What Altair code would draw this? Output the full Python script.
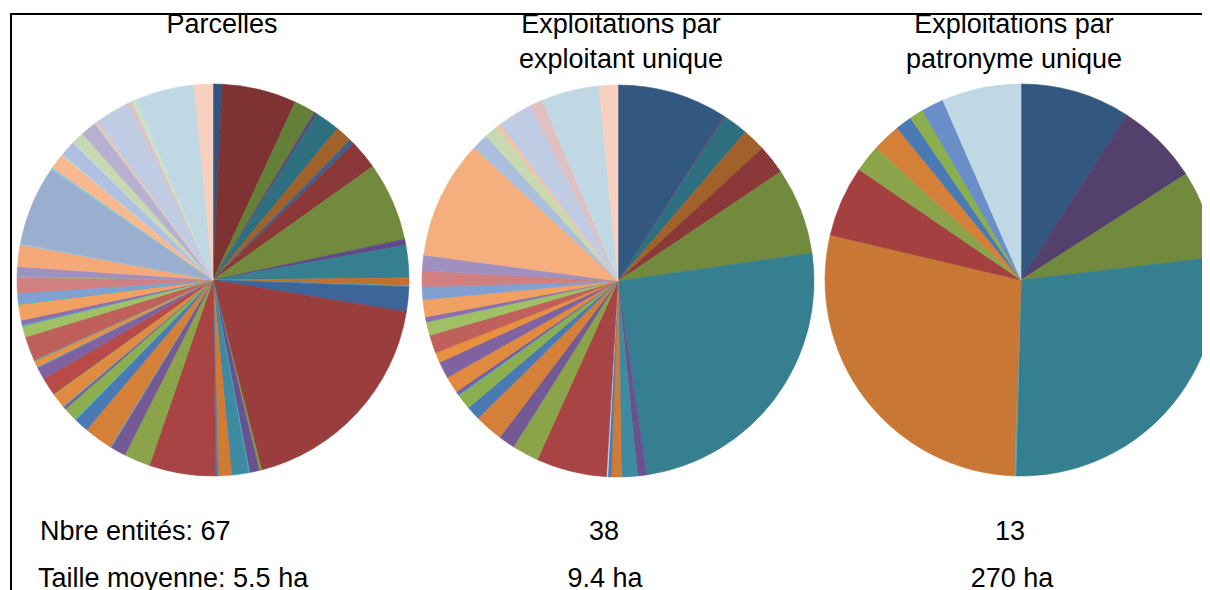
import altair as alt
import pandas as pd

# ---- data (slice sizes in degrees, clockwise from 12 o'clock)
parcelles_vals = [2.7, 22.1, 6.4, 1.0, 7.2, 5.0, 1.5, 8.7, 23.4, 1.8, 9.6, 2.3, 0.3, 7.4, 66.3,
                  0.7, 2.9, 0.3, 5.0, 3.9, 0.3, 0.4, 19.8, 7.8, 4.6, 0.3, 8.5, 4.3, 0.3, 4.1,
                  0.8, 0.3, 4.1, 0.3, 5.4, 3.7, 0.3, 1.8, 0.3, 7.3, 3.3, 0.3, 1.4, 4.7, 0.3,
                  3.0, 4.6, 0.3, 2.9, 6.5, 0.3, 23.6, 0.7, 4.6, 0.3, 4.5, 0.3, 3.5, 4.8, 0.3,
                  0.6, 10.3, 1.3, 0.3, 1.1, 17.6, 5.5]
parcelles_cols = ["#2F5580", "#7E3232", "#637F38", "#5B4A7C", "#2E7080", "#A0622A", "#3A6190",
                  "#8B3838", "#728A3E", "#5F4B8B", "#357F90", "#C07030", "#4BACC6", "#3E6598",
                  "#9A3D3D", "#7F9A48", "#6A5290", "#4BACC6", "#3C8BA0", "#D07A34", "#4F81BD",
                  "#4A7AB4", "#A84444", "#8BA44A", "#745A94", "#4BACC6", "#D58038", "#4A7AB4",
                  "#4BACC6", "#8BAE4E", "#7A5C9A", "#4BACC6", "#E08A40", "#9BBB59", "#B84A48",
                  "#7F62A0", "#4BACC6", "#E8903E", "#4BACC6", "#C0605A", "#A0C066", "#4BACC6",
                  "#8A70AE", "#F0A060", "#4BACC6", "#7FA0D0", "#D08080", "#9BBB59", "#A090C0",
                  "#F5A878", "#93CDDD", "#9AAFD0", "#8CC8D8", "#F8B890", "#B7DEE8", "#B0C0E0",
                  "#B7DEE8", "#C8D8B0", "#B8B0D0", "#B7DEE8", "#F8C0A0", "#C0CCE4", "#E0C0C0",
                  "#B7DEE8", "#D0E0C0", "#C0D8E4", "#F8D0C0"]

exploitant_vals = [32.7, 0.5, 7.3, 6.9, 8.7, 25.7, 89.8, 2.7, 4.7, 3.0, 1.0, 0.4, 20.9, 7.9,
                   4.9, 8.5, 4.1, 4.4, 0.4, 1.1, 4.9, 5.0, 3.0, 5.4, 4.0, 1.5, 5.1, 3.8, 4.7,
                   4.6, 35.2, 4.9, 4.2, 1.1, 10.4, 3.9, 17.1, 5.6]
exploitant_cols = ["#325880", "#5B4A7C", "#2E7080", "#A0622A", "#8B3838", "#728A3E", "#357F90",
                   "#6A5290", "#3C8BA0", "#D07A34", "#4A7AB4", "#C6D9F1", "#A84444", "#8BA44A",
                   "#745A94", "#D58038", "#4A7AB4", "#8BAE4E", "#4BACC6", "#7A5C9A", "#E08A40",
                   "#7F62A0", "#E8903E", "#C0605A", "#A0C066", "#8A70AE", "#F0A060", "#7FA0D0",
                   "#D08080", "#A090C0", "#F5AE7E", "#ABBEDC", "#C8D8B0", "#F8C0A0", "#C0CCE4",
                   "#DFC0C0", "#C0D8E4", "#F8D0C0"]

patronyme_vals = [32.6, 24.7, 26.0, 98.2, 0.4, 101.4, 21.0, 8.1, 8.4, 4.9, 4.1, 6.7, 23.5]
patronyme_cols = ["#325880", "#54406C", "#728A3E", "#357F90", "#4BACC6", "#C87834", "#A54040",
                  "#8BA44A", "#D58038", "#4A7AB4", "#8BAE4E", "#6A8EC8", "#C0D8E4"]

titles = ["Parcelles", "Exploitations par\nexploitant unique", "Exploitations par\npatronyme unique"]
counts = ["Nbre entités: 67", "38", "13"]
sizes = ["Taille moyenne: 5.5 ha", "9.4 ha", "270 ha"]

FONT = "Liberation Sans"
W, H = 1194, 590
R = 196
centers = [(205, 272), (610, 273), (1013, 272)]


def pie(name, vals, cols, cx, cy):
    keys = [f"{name}_{i:02d}" for i in range(len(vals))]
    df = pd.DataFrame({"key": keys, "value": vals, "idx": list(range(len(vals)))})
    return alt.Chart(df).mark_arc(radius=R, strokeWidth=0.6).encode(
        theta=alt.Theta("value:Q", stack=True),
        order=alt.Order("idx:Q", sort="ascending"),
        color=alt.Color("key:N", scale=alt.Scale(domain=keys, range=cols), legend=None),
        stroke=alt.Stroke("key:N", scale=alt.Scale(domain=keys, range=cols), legend=None),
        x=alt.value(cx),
        y=alt.value(cy),
    )


def label(txt, x, y, size, align="center", lb=False):
    df = pd.DataFrame({"t": [txt]})
    kw = dict(font=FONT, fontSize=size, color="#000000", align=align, baseline="alphabetic")
    if lb:
        kw.update(lineBreak="\n", lineHeight=35)
    return alt.Chart(df).mark_text(**kw).encode(text="t:N", x=alt.value(x), y=alt.value(y))


p1 = pie("p1", parcelles_vals, parcelles_cols, *centers[0])
p2 = pie("p2", exploitant_vals, exploitant_cols, *centers[1])
p3 = pie("p3", patronyme_vals, patronyme_cols, *centers[2])

texts = [
    label(titles[0], 214, 25, 27),
    label(titles[1], 613, 25, 27, lb=True),
    label(titles[2], 1006, 25, 27, lb=True),
    label(counts[0], 32, 532, 27, align="left"),
    label(counts[1], 596, 532, 27),
    label(counts[2], 1002, 532, 27),
    label(sizes[0], 30, 579, 27, align="left"),
    label(sizes[1], 597, 579, 27),
    label(sizes[2], 1004, 579, 27),
]

frame_df = pd.DataFrame({"a": [0]})
top_line = alt.Chart(frame_df).mark_rule(color="#000000", strokeWidth=2).encode(
    x=alt.value(2), x2=alt.value(1197), y=alt.value(6))
left_line = alt.Chart(frame_df).mark_rule(color="#000000", strokeWidth=2).encode(
    x=alt.value(3), y=alt.value(5), y2=alt.value(H))

chart = alt.layer(p1, p2, p3, top_line, left_line, *texts).resolve_scale(
    theta="independent", color="independent", stroke="independent"
).properties(
    width=W, height=H, padding=0, autosize=alt.AutoSizeParams(type="none")
).configure_view(stroke=None)

chart.save("out.html", embed_options={"renderer": "svg", "actions": False})
